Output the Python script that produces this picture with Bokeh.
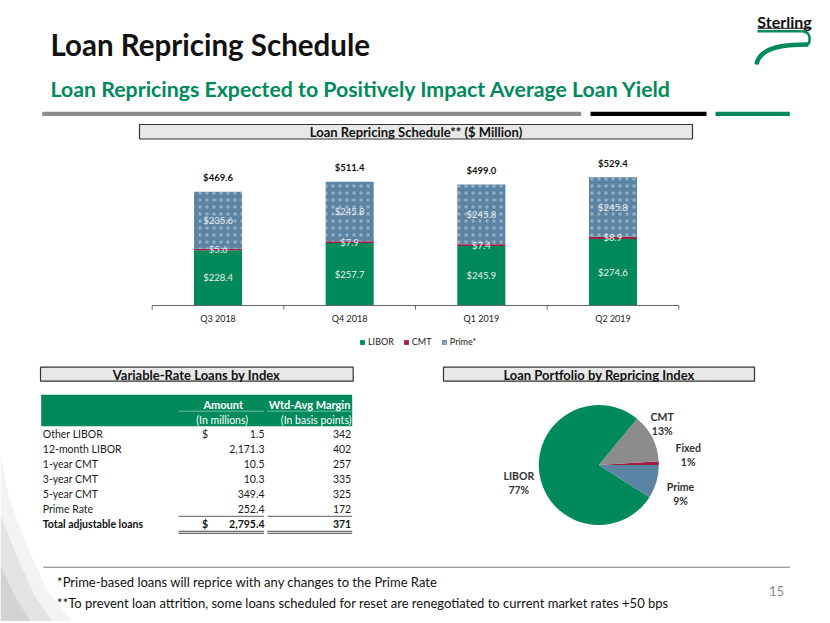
import numpy as np
from bokeh.plotting import figure
from bokeh.models import Range1d, Legend, LegendItem, ColumnDataSource
from bokeh.core.properties import value
from bokeh.embed import file_html
from bokeh.resources import INLINE

# ---------------- data ----------------
quarters = ["Q3 2018", "Q4 2018", "Q1 2019", "Q2 2019"]
libor = [228.4, 257.7, 245.9, 274.6]
cmt = [5.6, 7.9, 7.4, 8.9]
prime = [235.6, 245.8, 245.8, 245.8]
totals = [469.6, 511.4, 499.0, 529.4]
series_names = ["LIBOR", "CMT", "Prime*"]

index_names = ["Other LIBOR", "12-month LIBOR", "1-year CMT", "3-year CMT", "5-year CMT", "Prime Rate"]
index_amounts = [1.5, 2171.3, 10.5, 10.3, 349.4, 252.4]
index_margins = [342, 402, 257, 335, 325, 172]
total_name = "Total adjustable loans"
total_amount = 2795.4
total_margin = 371

pie_names = ["Fixed", "CMT", "LIBOR", "Prime"]
pie_pct = [1, 13, 77, 9]

# ---------------- styles / layout ----------------
GREEN = "#008A5B"
CRIMSON = "#A01E41"
BLUE = "#5B84A4"
GRAY = "#8C8C8C"
FONT = value("Lato")
pie_colors = {"Fixed": CRIMSON, "CMT": GRAY, "LIBOR": GREEN, "Prime": BLUE}

PX0, PX1, PY0, PY1 = 0, 828, 0, 621          # page area covered by the frame
BAR_L, BAR_R = 151.7, 678.3                   # category band extent (page px)
BAR_BASE, BAR_TOP, BAR_YMAX = 305.0, 150.0, 640.0
BAR_W = 0.365

p = figure(width=PX1 - PX0, height=PY1 - PY0, x_range=Range1d(PX0, PX1),
           y_range=Range1d(PY1, PY0), x_axis_type=None, y_axis_type=None,
           output_backend="svg", toolbar_location=None, min_border=0)
p.outline_line_color = None
p.background_fill_color = "white"
p.border_fill_color = "white"

# scales for the bar chart region, mapped through extra ranges
n = len(quarters)
ppu_x = (BAR_R - BAR_L) / n
ppu_y = (BAR_BASE - BAR_TOP) / BAR_YMAX
p.extra_x_ranges = {"bx": Range1d((PX0 - BAR_L) / ppu_x, (PX1 - BAR_L) / ppu_x)}
p.extra_y_ranges = {"by": Range1d(-(PY1 - BAR_BASE) / ppu_y, (BAR_BASE - PY0) / ppu_y)}
BR = dict(x_range_name="bx", y_range_name="by")


def txt(x, y, s, size, color="#111111", style="normal", align="left", baseline="middle"):
    p.text(x=[x], y=[y], text=[s], text_font=FONT, text_font_size=value(f"{size}px"),
           text_color=color, text_font_style=style, text_align=align, text_baseline=baseline)


# bottom-left decoration
for xs_, ys_, a in [([0, 8, 26, 48, 72, 0], [455, 495, 545, 592, 621, 621], 0.10),
                    ([0, 16, 34, 52, 0], [515, 555, 595, 621, 621], 0.14),
                    ([0, 14, 30, 0], [565, 595, 621, 621], 0.18)]:
    p.patch(xs_, ys_, color="#8a8a8a", alpha=a, line_color=None)

# ---------------- header ----------------
txt(50, 43.5, "Loan Repricing Schedule", 29.5, "#111111", "bold")
txt(50, 88, "Loan Repricings Expected to Positively Impact Average Loan Yield", 21.3,
    GREEN, "bold")
p.quad(left=[41.7, 590, 715], right=[580.7, 706, 789.3], top=[111.2] * 3, bottom=[115.6] * 3,
       color=["#8C8C8C", "#000000", GREEN], line_color=None)
# logo
txt(784, 20.5, "Sterling", 16, "#111111", "bold", align="center")
p.segment(x0=[757], y0=[27.8], x1=[811], y1=[27.8], line_color="#111111", line_width=1)
p.line([757, 801], [30.8, 30.8], line_color=GREEN, line_width=2.5)
p.bezier(x0=[801], y0=[30.8], x1=[808], y1=[44], cx0=[810], cy0=[30.8], cx1=[810], cy1=[38],
         line_color=GREEN, line_width=2.5)
p.bezier(x0=[756], y0=[64], x1=[808], y1=[44], cx0=[759], cy0=[46], cx1=[785], cy1=[44],
         line_color=GREEN, line_width=4.5)
# chart title box
p.quad(left=[139], right=[692], top=[124], bottom=[138.5], fill_color="#E8E8E8",
       line_color="#333333", line_width=1.2)
txt(415.5, 131.5, "Loan Repricing Schedule** ($ Million)", 13, "#111111", "bold", align="center")

# ---------------- bar chart ----------------
xs = [i + 0.5 for i in range(n)]
src = ColumnDataSource(dict(x=xs, LIBOR=libor, CMT=cmt, Prime=prime))
rs = p.vbar_stack(["LIBOR", "CMT", "Prime"], x="x", width=BAR_W, source=src,
                  color=[GREEN, CRIMSON, BLUE], line_color=None, **BR)
rs[2].glyph.hatch_pattern = "dot"
rs[2].glyph.hatch_color = "white"
rs[2].glyph.hatch_alpha = 0.35
rs[2].glyph.hatch_scale = 7
rs[2].glyph.hatch_weight = 0.8

mid_l = [l / 2 for l in libor]
mid_c = [l + c / 2 for l, c in zip(libor, cmt)]
mid_p = [l + c + q / 2 for l, c, q in zip(libor, cmt, prime)]
tops = [l + c + q for l, c, q in zip(libor, cmt, prime)]
seg = ColumnDataSource(dict(x=xs * 3, y=mid_l + mid_c + mid_p,
                            t=[f"${v:,.1f}" for v in libor + cmt + prime]))
p.text(x="x", y="y", text="t", source=seg, text_align="center", text_baseline="middle",
       text_color="#EEEEEE", text_font=FONT, text_font_size=value("9.5px"), **BR)
tot = ColumnDataSource(dict(x=xs, y=tops, t=[f"${v:,.1f}" for v in totals]))
p.text(x="x", y="y", text="t", source=tot, text_align="center", text_baseline="middle",
       y_offset=-14, text_color="#111111", text_font=FONT, text_font_style="bold",
       text_font_size=value("9.5px"), **BR)

# category axis: line, boundary ticks, labels
p.segment(x0=[0], y0=[0], x1=[n], y1=[0], line_color="#666666", line_width=1, **BR)
bounds = list(range(n + 1))
p.segment(x0=bounds, y0=[0] * (n + 1), x1=bounds, y1=[-4 / ppu_y] * (n + 1),
          line_color="#666666", line_width=1, **BR)
p.text(x=xs, y=[0] * n, text=quarters, y_offset=13, text_align="center",
       text_baseline="middle", text_color="#222222", text_font=FONT,
       text_font_size=value("9px"), **BR)

items = [LegendItem(label=nm, renderers=[r]) for nm, r in zip(series_names, rs)]
leg = Legend(items=items, orientation="horizontal", location=(359 - PX0, PY1 - 347),
             glyph_width=6, glyph_height=6, label_height=10, label_text_font="Lato",
             label_text_font_size="9px", label_standoff=3, spacing=9, padding=0, margin=0,
             border_line_color=None, background_fill_alpha=0, label_text_color="#222222")
p.add_layout(leg)

# ---------------- table ----------------
p.quad(left=[40], right=[352.7], top=[366.7], bottom=[380.7], fill_color="#E8E8E8",
       line_color="#333333", line_width=1.2)
txt(196, 374, "Variable-Rate Loans by Index", 13, "#111111", "bold", align="center")
p.quad(left=[40.7], right=[351.7], top=[394.3], bottom=[425.7], color=GREEN, line_color=None)
p.segment(x0=[178, 267], y0=[410.7] * 2, x1=[263.5, 351.7], y1=[410.7] * 2,
          line_color="#6FC09C", line_width=1)
txt(222.7, 403.5, "Amount", 11, "white", "bold", align="center")
txt(309, 403.5, "Wtd-Avg Margin", 11, "white", "bold", align="center")
txt(221.7, 419, "(In millions)", 10.5, "white", align="center")
txt(351, 419, "(In basis points)", 10.5, "white", align="right")

row_y = [433.8 + 15 * i for i in range(len(index_names))]
tsrc = ColumnDataSource(dict(
    y=row_y, name=index_names,
    amt=[f"{a:,.1f}" for a in index_amounts],
    mar=[str(m) for m in index_margins]))
common = dict(source=tsrc, text_font=FONT, text_font_size=value("10.5px"),
              text_color="#1A1A1A", text_baseline="middle")
p.text(x=42.3, y="y", text="name", text_align="left", **common)
p.text(x=264, y="y", text="amt", text_align="right", **common)
p.text(x=350.7, y="y", text="mar", text_align="right", **common)
txt(201.5, row_y[0], "$", 10.5, "#1A1A1A")

ty = row_y[-1] + 15
p.segment(x0=[178, 267], y0=[515.8] * 2, x1=[263.5, 351.7], y1=[515.8] * 2,
          line_color="#333333", line_width=0.8)
txt(42.3, ty, total_name, 10.5, "#111111", "bold")
txt(201.5, ty, "$", 10.5, "#111111", "bold")
txt(264, ty, f"{total_amount:,.1f}", 10.5, "#111111", "bold", align="right")
txt(350.7, ty, str(total_margin), 10.5, "#111111", "bold", align="right")
for yy in (530.8, 532.8):
    p.segment(x0=[178, 267], y0=[yy] * 2, x1=[263.5, 351.7], y1=[yy] * 2,
              line_color="#6A6A6A", line_width=1.2)

# ---------------- pie ----------------
p.quad(left=[443], right=[754], top=[366.7], bottom=[380.7], fill_color="#E8E8E8",
       line_color="#333333", line_width=1.2)
txt(598.5, 374, "Loan Portfolio by Repricing Index", 13, "#111111", "bold", align="center")
cum = np.cumsum([0] + pie_pct) / float(sum(pie_pct)) * 2 * np.pi
psrc = ColumnDataSource(dict(s=cum[:-1], e=cum[1:], c=[pie_colors[k] for k in pie_names]))
p.wedge(x=598.3, y=464.5, radius=60, start_angle="s", end_angle="e", fill_color="c",
        line_color=None, source=psrc)
label_pos = {"CMT": (661.7, 423.7), "Fixed": (687.7, 454.2), "Prime": (680, 493.7),
             "LIBOR": (518.3, 482.5)}
for k, v in zip(pie_names, pie_pct):
    lx, ly = label_pos[k]
    txt(lx, ly - 7, k, 10.5, "#333333", "bold", align="center")
    txt(lx, ly + 7, f"{v}%", 10.5, "#333333", "bold", align="center")

# ---------------- footer ----------------
p.segment(x0=[42.8], y0=[566.7], x1=[789.6], y1=[566.7], line_color="#777777", line_width=1)
txt(56.6, 581, "*Prime-based loans will reprice with any changes to the Prime Rate", 13, "#111111")
txt(56.6, 602, "**To prevent loan attrition, some loans scheduled for reset are renegotiated to current market rates +50 bps", 13, "#111111")
txt(776, 590, "15", 13, "#8C8C8C", align="center")

open("out.html", "w").write(file_html(p, INLINE))
